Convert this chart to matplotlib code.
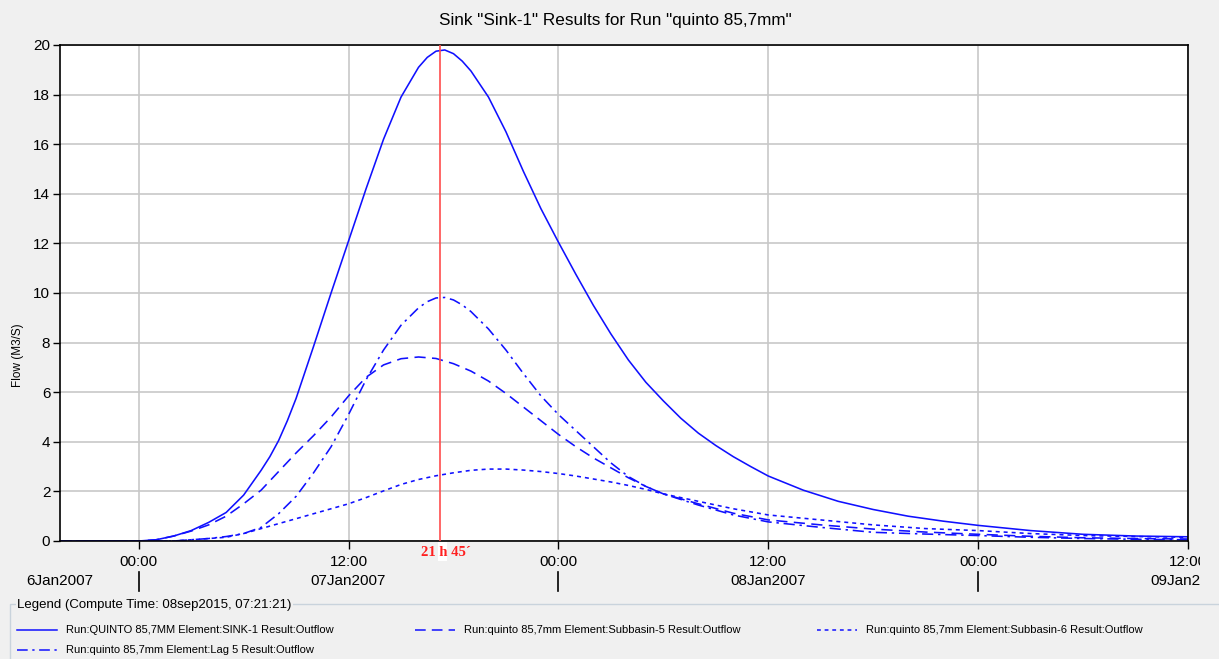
import numpy as np
import matplotlib
matplotlib.use("Agg")
import matplotlib.pyplot as plt
import matplotlib.transforms as mtransforms
from matplotlib.lines import Line2D
from matplotlib.patches import Rectangle

# hours relative to 07Jan2007 00:00
sink1_h = [-4.5, 0, 1, 2, 3, 4, 5, 6, 7, 7.5, 8, 8.5, 9, 10, 11, 12, 13, 14, 15,
           16, 16.5, 17, 17.5, 18, 18.5, 19, 20, 21, 22, 23, 24, 25, 26, 27, 28,
           29, 30, 31, 32, 33, 34, 35, 36, 38, 40, 42, 44, 46, 48, 51, 54, 57, 60]
sink1 = [0, 0, 0.05, 0.2, 0.42, 0.75, 1.15, 1.85, 2.85, 3.4, 4.05, 4.85, 5.75,
         7.85, 10.0, 12.1, 14.2, 16.2, 17.9, 19.1, 19.5, 19.75, 19.8, 19.65,
         19.35, 18.95, 17.9, 16.5, 14.9, 13.4, 12.05, 10.75, 9.5, 8.35, 7.3, 6.4,
         5.65, 4.95, 4.35, 3.85, 3.4, 3.0, 2.62, 2.05, 1.6, 1.27, 1.0, 0.8, 0.63,
         0.42, 0.27, 0.2, 0.17]

sub5_h = [-4.5, 0, 1, 2, 3, 4, 5, 6, 7, 8, 9, 10, 11, 12, 13, 14, 15, 16, 17, 18,
          19, 20, 21, 22, 23, 24, 25, 26, 27, 28, 29, 30, 32, 34, 36, 39, 42, 45,
          48, 51, 54, 57, 60]
subbasin5 = [0, 0, 0.05, 0.2, 0.4, 0.65, 1.0, 1.5, 2.05, 2.8, 3.55, 4.25, 5.0,
             5.85, 6.6, 7.1, 7.35, 7.42, 7.36, 7.15, 6.85, 6.45, 5.95, 5.4, 4.85,
             4.3, 3.8, 3.35, 2.95, 2.55, 2.2, 1.9, 1.5, 1.12, 0.85, 0.65, 0.48,
             0.36, 0.27, 0.19, 0.13, 0.1, 0.08]

sub6_h = [-4.5, 0, 2, 3, 4, 5, 6, 7, 8, 9, 10, 11, 12, 13, 14, 15, 16, 17, 18, 19,
          20, 21, 22, 23, 24, 25, 26, 27, 28, 29, 30, 32, 34, 36, 39, 42, 45, 48,
          51, 54, 57, 60]
subbasin6 = [0, 0, 0, 0.05, 0.1, 0.15, 0.3, 0.5, 0.7, 0.9, 1.1, 1.3, 1.5, 1.75,
             2.02, 2.28, 2.48, 2.63, 2.75, 2.85, 2.9, 2.9, 2.86, 2.8, 2.72, 2.62,
             2.5, 2.38, 2.24, 2.08, 1.9, 1.6, 1.3, 1.05, 0.85, 0.65, 0.5, 0.42,
             0.3, 0.22, 0.18, 0.15]

lag5_h = [-4.5, 0, 2, 3, 4, 5, 6, 7, 8, 9, 10, 11, 12, 13, 14, 15, 16, 16.5, 17,
          17.5, 18, 18.5, 19, 20, 21, 22, 23, 24, 25, 26, 27, 28, 29, 30, 32, 34,
          36, 39, 42, 45, 48, 51, 54, 57, 60]
lag5 = [0, 0, 0, 0.05, 0.1, 0.18, 0.3, 0.55, 1.1, 1.8, 2.75, 3.8, 5.1, 6.5, 7.7,
        8.7, 9.4, 9.65, 9.8, 9.82, 9.72, 9.52, 9.25, 8.55, 7.7, 6.75, 5.85, 5.1,
        4.45, 3.8, 3.15, 2.6, 2.2, 1.9, 1.45, 1.05, 0.77, 0.55, 0.35, 0.28, 0.22,
        0.15, 0.1, 0.07, 0.05]

xtick_pos = [0, 12, 24, 36, 48, 60]
xtick_labels = ["00:00", "12:00", "00:00", "12:00", "00:00", "12:00"]
day_pos = [-4.5, 12, 36, 60]
day_labels = ["6Jan2007", "07Jan2007", "08Jan2007", "09Jan2007"]
day_breaks = [0, 24, 48]
peak_hour = 17.25
peak_label = "21 h 45\u00b4"

legend_entries = [
    ("Run:QUINTO 85,7MM Element:SINK-1 Result:Outflow", "-"),
    ("Run:quinto 85,7mm Element:Subbasin-5 Result:Outflow", (0, (7, 4))),
    ("Run:quinto 85,7mm Element:Subbasin-6 Result:Outflow", (0, (2.5, 2.5))),
    ("Run:quinto 85,7mm Element:Lag 5 Result:Outflow", (0, (7, 3, 1.5, 3))),
]

W, H = 1219, 659
BG = "#f0f0f0"
BLUE = "#1010ff"
plt.rcParams["font.family"] = ["Liberation Sans", "DejaVu Sans"]

fig = plt.figure(figsize=(W / 100, H / 100), dpi=100, facecolor=BG)


def fx(x):
    return x / W


def fy(y):
    return 1 - y / H


ax = fig.add_axes([fx(60), fy(541), fx(1188) - fx(60), fy(45) - fy(541)])
ax.set_facecolor("white")

ax.plot(sink1_h, sink1, color=BLUE, lw=1.15, ls="-")
ax.plot(sub5_h, subbasin5, color=BLUE, lw=1.15, ls=legend_entries[1][1])
ax.plot(sub6_h, subbasin6, color=BLUE, lw=1.15, ls=legend_entries[2][1])
ax.plot(lag5_h, lag5, color=BLUE, lw=1.15, ls=legend_entries[3][1])

ax.axvline(peak_hour, color="#ff4d4d", lw=1.2, zorder=3)

ax.set_xlim(-4.5, 60)
ax.set_ylim(0, 20)
ax.set_yticks(np.arange(0, 21, 2))
ax.set_xticks(xtick_pos)
ax.set_xticklabels(xtick_labels)
ax.grid(True, color="#c8c8c8", lw=1.2)
ax.set_axisbelow(True)
for s in ax.spines.values():
    s.set_color("black")
    s.set_linewidth(1.2)
ax.tick_params(axis="both", direction="out", length=5, width=1, labelsize=11,
               colors="black", pad=2)
ax.tick_params(axis="x", length=6, pad=4)

# clip last tick label at the right edge like the original window
clip = mtransforms.TransformedBbox(
    mtransforms.Bbox([[0, 0], [fx(1200), 1]]), fig.transFigure)
last = ax.xaxis.get_major_ticks()[-1].label1
last.set_clip_box(clip)
last.set_clip_on(True)

trans = mtransforms.blended_transform_factory(ax.transData, ax.transAxes)
ah = 541 - 45
for pos, lab in zip(day_pos, day_labels):
    t = ax.text(pos, -(581 - 541) / ah, lab, transform=trans, ha="center",
                va="center", fontsize=11, clip_on=False)
    t.set_clip_box(clip)
    t.set_clip_on(True)
for pos in day_breaks:
    ax.plot([pos, pos], [-(572 - 541) / ah, -(591 - 541) / ah], color="black",
            lw=1.2, transform=trans, clip_on=False)

# peak time label
fig.patches.append(Rectangle((fx(438), fy(561)), fx(9), fy(542) - fy(561),
                             transform=fig.transFigure, facecolor="white",
                             edgecolor="none", zorder=-1))
ax.text(peak_hour + 0.3, -(553 - 541) / ah, peak_label, transform=trans,
        ha="center", va="center", color="#ff2020", fontsize=10.5,
        fontweight="bold", family="Liberation Serif", clip_on=False)

fig.text(fx(615), fy(20), 'Sink "Sink-1" Results for Run "quinto 85,7mm"',
         ha="center", va="center", fontsize=12.3)
fig.text(fx(18), fy(355), "Flow (M3/S)", rotation=90, ha="center", va="center",
         fontsize=8.5)

# legend panel
fig.patches.append(Rectangle((fx(10), fy(660)), fx(1225) - fx(10),
                             fy(604) - fy(660), transform=fig.transFigure,
                             facecolor=BG, edgecolor="#c9d3dc", lw=1))
fig.text(fx(17), fy(605), "Legend (Compute Time: 08sep2015, 07:21:21)",
         ha="left", va="center", fontsize=9.5,
         bbox=dict(facecolor=BG, edgecolor="none", pad=1))

slots = [(17, 630), (415, 630), (817, 630), (17, 650)]
for (label, ls), (x0, y0) in zip(legend_entries, slots):
    fig.add_artist(Line2D([fx(x0), fx(x0 + 40)], [fy(y0), fy(y0)], color=BLUE,
                          lw=1.1, ls=ls, transform=fig.transFigure))
    fig.text(fx(x0 + 49), fy(y0), label, ha="left", va="center", fontsize=8)

fig.savefig("out.png", dpi=100, facecolor=BG)
